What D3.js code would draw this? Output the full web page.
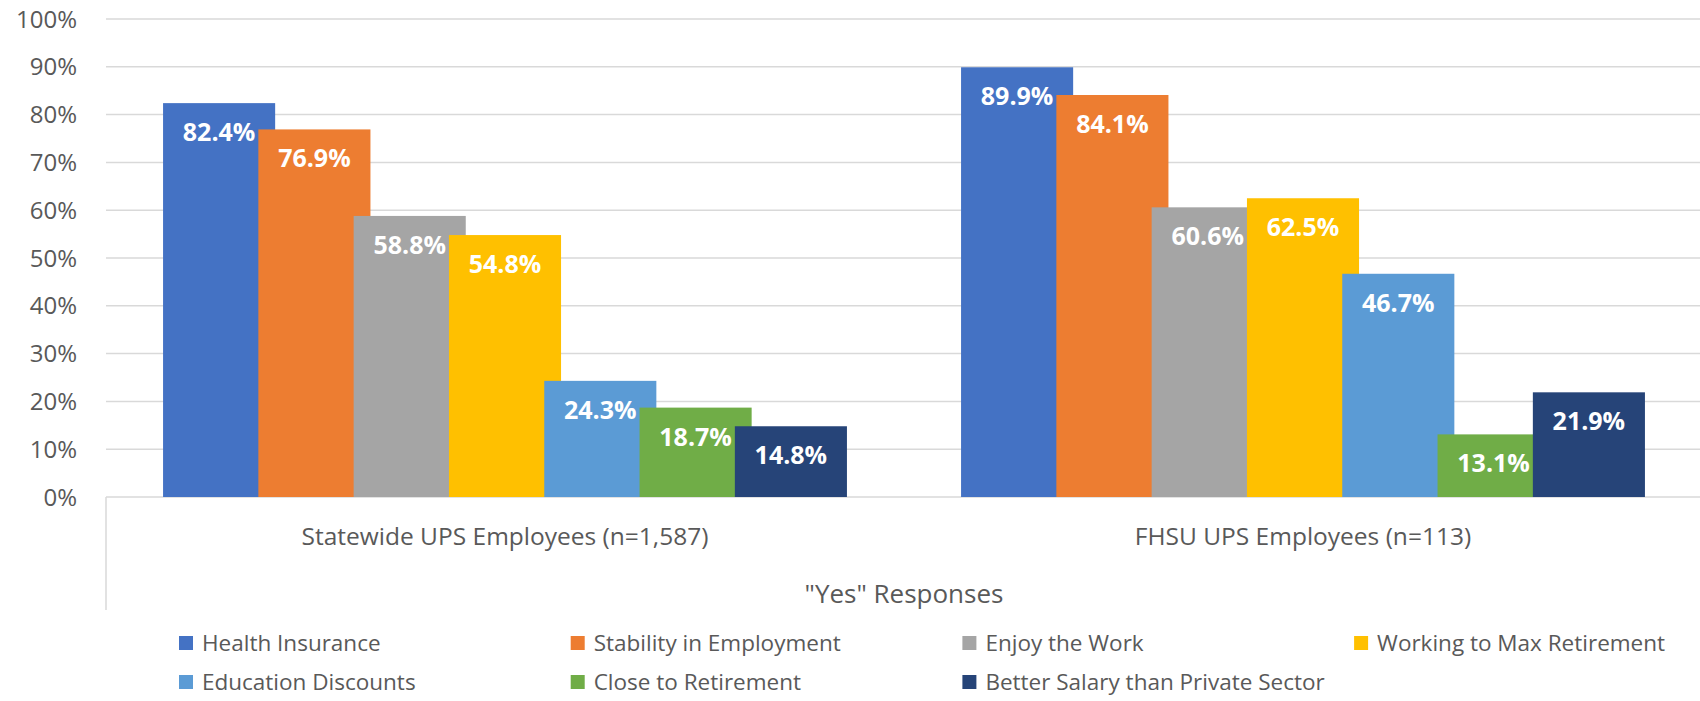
<!DOCTYPE html>
<html lang="en">
<head>
    <meta charset="UTF-8">
    <title>UPS Employees - "Yes" Responses</title>
    <script src="https://d3js.org/d3.v7.min.js"></script>
    <style>
        body { margin: 0; background: #fff; }
        svg text { font-family: "Open Sans", "Segoe UI", sans-serif; fill: #595959; }
        .grid line { stroke: #d9d9d9; stroke-width: 1.5; }
        .bar-label { fill: #fff; font-weight: bold; }
    </style>
</head>
<body>
    <div id="chart"></div>
    <script type="text/javascript">
        // Chart data
        const categories = ["Statewide UPS Employees (n=1,587)", "FHSU UPS Employees (n=113)"];
        const seriesNames = ["Health Insurance", "Stability in Employment", "Enjoy the Work",
            "Working to Max Retirement", "Education Discounts", "Close to Retirement",
            "Better Salary than Private Sector"];
        const statewideValues = [82.4, 76.9, 58.8, 54.8, 24.3, 18.7, 14.8];
        const fhsuValues = [89.9, 84.1, 60.6, 62.5, 46.7, 13.1, 21.9];
        const yTicks = [0, 10, 20, 30, 40, 50, 60, 70, 80, 90, 100];
        const axisTitle = '"Yes" Responses';
        const colors = ["#4472C4", "#ED7D31", "#A5A5A5", "#FFC000", "#5B9BD5", "#70AD47", "#264478"];

        const valuesByCategory = [statewideValues, fhsuValues];

        const W = 1700, H = 701;
        const plot = {left: 106, right: 1702, top: 19, bottom: 497};

        const svg = d3.select("#chart").append("svg")
            .attr("width", W)
            .attr("height", H);

        const y = d3.scaleLinear().domain([0, 100]).range([plot.bottom, plot.top]);
        const x0 = d3.scaleBand().domain(categories).range([plot.left, plot.right]);
        // groups take ~86% of a band, bars overlap a bit like the Excel original
        const groupPad = x0.bandwidth() * 0.0715;
        const x1 = d3.scaleBand().domain(seriesNames)
            .range([groupPad, groupPad + (x0.bandwidth() - 2 * groupPad) / 1.025]);
        const barW = x1.step() * 1.176;
        x1.range([groupPad, groupPad + (x0.bandwidth() - 2 * groupPad - barW) * 7 / 6]);

        // gridlines
        svg.append("g").attr("class", "grid")
            .selectAll("line")
            .data(yTicks)
            .join("line")
            .attr("x1", plot.left)
            .attr("x2", W)
            .attr("y1", d => y(d))
            .attr("y2", d => y(d));

        // y tick labels
        svg.append("g")
            .selectAll("text")
            .data(yTicks)
            .join("text")
            .attr("x", 77)
            .attr("y", d => y(d))
            .attr("dy", "0.36em")
            .attr("text-anchor", "end")
            .style("font-size", "24px")
            .text(d => d + "%");

        // left axis line below plot
        svg.append("line")
            .attr("x1", plot.left).attr("x2", plot.left)
            .attr("y1", plot.bottom).attr("y2", 610)
            .attr("stroke", "#d9d9d9").attr("stroke-width", 1.5);

        // bars
        const groups = svg.append("g")
            .selectAll("g")
            .data(categories)
            .join("g")
            .attr("transform", d => `translate(${x0(d)},0)`);

        groups.each(function(cat, ci) {
            const g = d3.select(this);
            const rows = seriesNames.map((s, i) => ({s, i, v: valuesByCategory[ci][i]}));
            g.selectAll("rect")
                .data(rows)
                .join("rect")
                .attr("x", d => x1(d.s))
                .attr("y", d => y(d.v))
                .attr("width", barW)
                .attr("height", d => y(0) - y(d.v))
                .attr("fill", d => colors[d.i]);
            g.selectAll("text.bar-label")
                .data(rows)
                .join("text")
                .attr("class", "bar-label")
                .attr("x", d => x1(d.s) + barW / 2)
                .attr("y", d => y(d.v) + 38)
                .attr("text-anchor", "middle")
                .style("font-size", "25px")
                .text(d => d.v.toFixed(1) + "%");
        });

        // category labels
        svg.append("g")
            .selectAll("text")
            .data(categories)
            .join("text")
            .attr("x", d => x0(d) + x0.bandwidth() / 2)
            .attr("y", 545)
            .attr("text-anchor", "middle")
            .style("font-size", "24.5px")
            .text(d => d);

        // axis title
        svg.append("text")
            .attr("x", (plot.left + plot.right) / 2)
            .attr("y", 603)
            .attr("text-anchor", "middle")
            .style("font-size", "26px")
            .text(axisTitle);

        // legend, 4 columns x 2 rows
        const legend = svg.append("g")
            .selectAll("g")
            .data(seriesNames)
            .join("g")
            .attr("transform", (d, i) => `translate(${179 + (i % 4) * 391.7},${643 + Math.floor(i / 4) * 39})`);
        legend.append("rect")
            .attr("x", 0).attr("y", -7)
            .attr("width", 14).attr("height", 14)
            .attr("fill", (d, i) => colors[i]);
        legend.append("text")
            .attr("x", 23)
            .attr("dy", "0.36em")
            .style("font-size", "22.5px")
            .text(d => d);
    </script>
</body>
</html>
